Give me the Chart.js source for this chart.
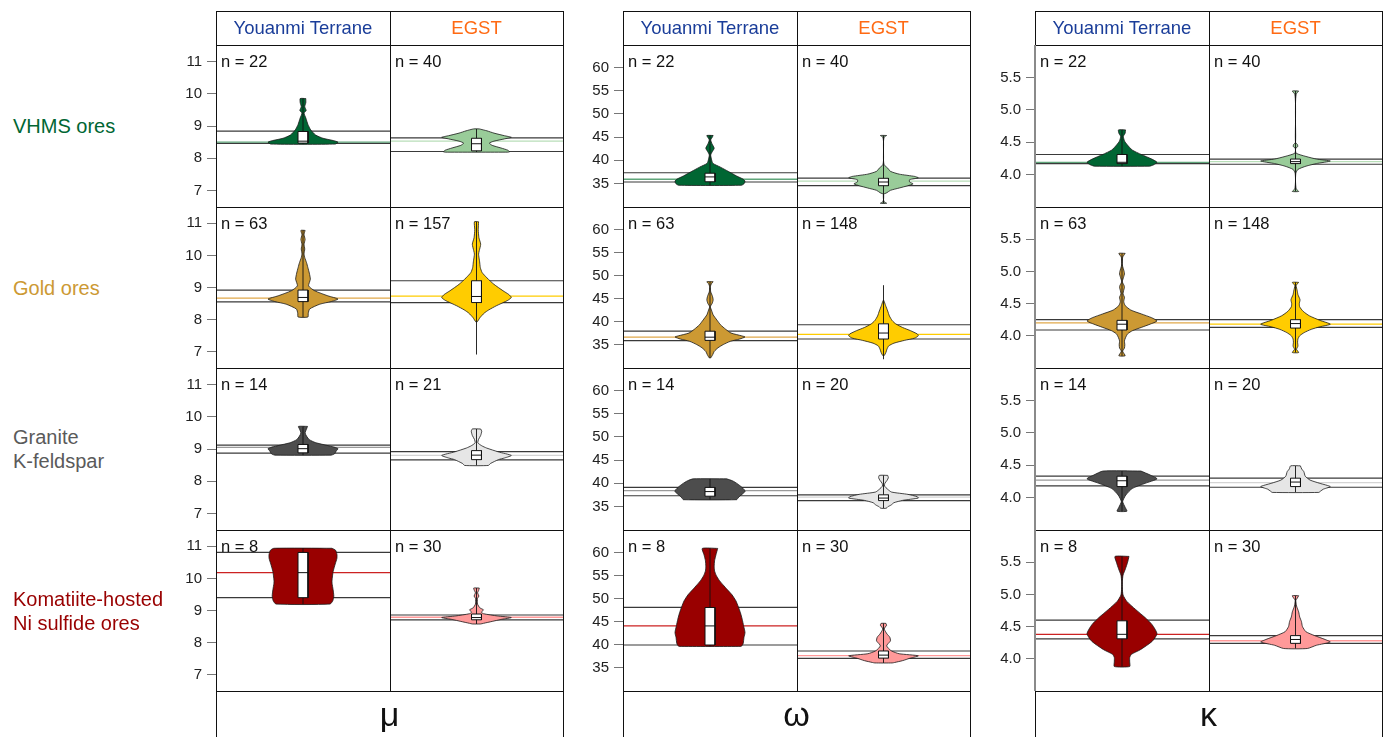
<!DOCTYPE html>
<html>
<head>
<meta charset="utf-8">
<title>μ, ω, κ by ore type and terrane</title>
<script src="https://cdn.jsdelivr.net/npm/chart.js@4.4.1/dist/chart.umd.min.js"></script>
<style>
  html, body { margin: 0; padding: 0; background: #fff; }
  #fig { position: relative; width: 1386px; height: 737px; overflow: hidden;
         font-family: "Liberation Sans", Arial, sans-serif; }
  .rule { position: absolute; background: #111; z-index: 5; }
  .txt { position: absolute; white-space: nowrap; z-index: 6; }
  .box { position: absolute; display: flex; align-items: center; z-index: 6; }
  canvas { position: absolute; z-index: 2; }
</style>
</head>
<body>
<div id="fig"></div>
<script>
// ---- labels ----
const groups = ['VHMS ores', 'Gold ores', 'Granite\nK-feldspar', 'Komatiite-hosted\nNi sulfide ores'];
const terranes = ['Youanmi Terrane', 'EGST'];
const params = ['μ', 'ω', 'κ'];

// ---- axis ticks ----
const muTicks = [7, 8, 9, 10, 11];
const omegaTicks = [35, 40, 45, 50, 55, 60];
const kappaTicks = [4.0, 4.5, 5.0, 5.5];

// ---- sample sizes [group][terrane] ----
const muCounts = [[22, 40], [63, 157], [14, 21], [8, 30]];
const omegaCounts = [[22, 40], [63, 148], [14, 20], [8, 30]];
const kappaCounts = [[22, 40], [63, 148], [14, 20], [8, 30]];

// ---- violin density profiles: [value, relative half-width], top to bottom; [Youanmi, EGST] ----
const muVhmsViolin = [
  [[9.85,0.08],[9.72,0.08],[9.6,0.05],[9.48,0.09],[9.4,0.03],[9.25,0.08],[9.05,0.14],[8.88,0.22],[8.72,0.36],[8.62,0.57],[8.55,0.86],[8.5,1],[8.44,0.92]],
  [[8.91,0.08],[8.85,0.3],[8.78,0.5],[8.7,0.8],[8.65,1],[8.6,0.8],[8.53,0.5],[8.47,0.37],[8.4,0.45],[8.32,0.7],[8.25,0.9],[8.2,0.95],[8.19,0.9]]
];
const muGoldViolin = [
  [[10.78,0.06],[10.65,0.03],[10.5,0.06],[10.35,0.03],[10.2,0.05],[10.05,0.03],[9.93,0.05],[9.78,0.1],[9.62,0.14],[9.45,0.18],[9.26,0.21],[9.05,0.16],[8.9,0.33],[8.74,0.71],[8.64,1],[8.56,0.8],[8.48,0.48],[8.33,0.19],[8.2,0.15],[8.08,0.14]],
  [[11.05,0.06],[10.8,0.05],[10.55,0.07],[10.35,0.12],[10.15,0.08],[10.04,0.06],[9.8,0.09],[9.62,0.11],[9.47,0.16],[9.3,0.3],[9.1,0.5],[8.9,0.76],[8.78,0.93],[8.69,1],[8.6,0.9],[8.43,0.57],[8.3,0.35],[8.2,0.22],[8.06,0.1],[7.93,0.02]]
];
const muGraniteViolin = [
  [[9.7,0.13],[9.62,0.1],[9.5,0.06],[9.4,0.1],[9.29,0.18],[9.2,0.35],[9.14,0.57],[9.07,0.85],[9.01,1],[8.94,0.95],[8.85,0.9],[8.81,0.8]],
  [[9.62,0.12],[9.55,0.15],[9.42,0.12],[9.3,0.06],[9.19,0.04],[9.1,0.15],[9.03,0.29],[8.91,0.63],[8.8,1],[8.72,0.8],[8.67,0.63],[8.55,0.4],[8.49,0.34]]
];
const muKomatiiteViolin = [
  [[10.94,0.83],[10.88,0.93],[10.75,0.97],[10.63,0.97],[10.45,0.92],[10.21,0.86],[9.95,0.83],[9.85,0.83],[9.65,0.86],[9.45,0.88],[9.3,0.85],[9.2,0.77]],
  [[9.7,0.08],[9.62,0.06],[9.55,0.03],[9.45,0.07],[9.38,0.03],[9.2,0.03],[9.08,0.1],[9.02,0.2],[8.95,0.14],[8.9,0.2],[8.83,0.6],[8.78,1],[8.72,0.7],[8.66,0.45],[8.6,0.2],[8.58,0.12]]
];

const omegaVhmsViolin = [
  [[45.35,0.09],[44.9,0.06],[44.4,0.02],[43.5,0.06],[42.6,0.12],[41.8,0.06],[41.15,0.02],[40.3,0.04],[39.35,0.08],[38.5,0.3],[37.6,0.52],[36.6,0.76],[35.9,0.95],[35.5,1],[35.0,0.98],[34.6,0.9]],
  [[45.35,0.09],[45.0,0.02],[44.0,0],[42.0,0],[40.0,0],[39.0,0.02],[38.3,0.12],[37.6,0.2],[37.0,0.45],[36.5,0.9],[36.2,1],[35.8,0.75],[35.3,0.75],[34.9,0.85],[34.5,0.7],[34.0,0.45],[33.5,0.2],[33.0,0.1],[32.6,0],[31.5,0],[31.0,0.02],[30.7,0.09]]
];
const omegaGoldViolin = [
  [[48.65,0.09],[48.2,0.04],[47.6,0.01],[46.5,0.02],[45.5,0.07],[44.7,0.09],[43.9,0.06],[43.25,0.01],[42.3,0.05],[41.45,0.09],[40.3,0.2],[39.3,0.3],[38.3,0.45],[37.5,0.6],[36.9,0.9],[36.65,1],[36.2,0.85],[35.7,0.58],[35.0,0.38],[34.3,0.23],[33.5,0.12],[32.85,0.08],[32.1,0.02]],
  [[44.6,0.01],[43.5,0.06],[42.3,0.12],[41.2,0.17],[40.2,0.25],[39.5,0.35],[38.7,0.55],[38.0,0.78],[37.3,0.97],[36.9,1],[36.4,0.9],[35.9,0.6],[35.3,0.3],[34.7,0.15],[34.0,0.1],[33.3,0.07],[32.6,0.02]]
];
const omegaGraniteViolin = [
  [[40.95,0.48],[40.5,0.65],[39.9,0.78],[39.2,0.9],[38.6,0.98],[38.2,1],[37.7,0.93],[37.2,0.85],[36.8,0.8],[36.45,0.76]],
  [[41.7,0.12],[41.2,0.14],[40.6,0.1],[40.0,0.04],[39.4,0.03],[38.7,0.12],[38.1,0.23],[37.6,0.7],[37.1,0.97],[36.8,1],[36.3,0.55],[35.8,0.3],[35.3,0.22],[34.9,0.12],[34.6,0.08]]
];
const omegaKomatiiteViolin = [
  [[60.9,0.22],[59.5,0.17],[58.2,0.13],[57.0,0.12],[56.0,0.13],[55.0,0.18],[54.0,0.26],[53.0,0.37],[51.9,0.5],[50.8,0.63],[49.5,0.74],[48.2,0.81],[46.9,0.87],[45.5,0.92],[44.1,0.96],[42.6,1],[41.5,0.97],[40.3,0.95],[39.8,0.92],[39.6,0.88]],
  [[44.6,0.07],[44.2,0.09],[43.8,0.05],[43.35,0.02],[42.8,0.06],[42.3,0.1],[41.6,0.18],[40.8,0.2],[40.1,0.12],[39.7,0.09],[39.2,0.14],[38.6,0.23],[38.0,0.45],[37.55,1],[37.0,0.75],[36.5,0.55],[36.1,0.32],[36.0,0.25]]
];

const kappaVhmsViolin = [
  [[4.69,0.1],[4.64,0.09],[4.59,0.04],[4.52,0.07],[4.46,0.15],[4.38,0.29],[4.31,0.55],[4.24,0.85],[4.19,1],[4.15,0.9],[4.13,0.78]],
  [[5.29,0.09],[5.24,0.02],[5.1,0],[4.8,0],[4.5,0],[4.46,0.06],[4.43,0.06],[4.4,0],[4.33,0.02],[4.28,0.3],[4.24,0.6],[4.21,1],[4.17,0.6],[4.13,0.3],[4.08,0.07],[4.02,0.01],[3.9,0],[3.78,0.02],[3.74,0.09]]
];
const kappaGoldViolin = [
  [[5.28,0.09],[5.22,0.02],[5.1,0.01],[5.0,0.06],[4.96,0.07],[4.92,0.05],[4.84,0.01],[4.78,0.06],[4.75,0.07],[4.71,0.05],[4.65,0.03],[4.6,0.07],[4.53,0.05],[4.47,0.09],[4.4,0.25],[4.34,0.55],[4.28,0.85],[4.23,1],[4.18,0.8],[4.13,0.55],[4.08,0.3],[4.03,0.16],[3.97,0.1],[3.92,0.07],[3.86,0.08],[3.81,0.07],[3.76,0.02],[3.69,0.09]],
  [[4.83,0.09],[4.78,0.02],[4.7,0.05],[4.64,0.07],[4.56,0.13],[4.5,0.11],[4.45,0.12],[4.38,0.22],[4.31,0.4],[4.24,0.7],[4.18,1],[4.14,0.7],[4.1,0.45],[4.05,0.25],[4.0,0.12],[3.95,0.07],[3.9,0.06],[3.84,0.07],[3.79,0.03],[3.74,0.09]]
];
const kappaGraniteViolin = [
  [[4.41,0.54],[4.35,0.8],[4.29,1],[4.22,0.66],[4.14,0.29],[4.04,0.11],[3.94,0.02],[3.85,0.09],[3.79,0.14]],
  [[4.49,0.14],[4.44,0.18],[4.4,0.24],[4.33,0.28],[4.27,0.42],[4.22,0.7],[4.17,1],[4.13,0.8],[4.1,0.72],[4.08,0.67]]
];
const kappaKomatiiteViolin = [
  [[5.59,0.2],[5.5,0.16],[5.4,0.1],[5.3,0.03],[5.2,0.01],[5.1,0.01],[4.99,0.03],[4.89,0.14],[4.77,0.38],[4.64,0.66],[4.53,0.86],[4.39,1],[4.27,0.86],[4.14,0.52],[4.07,0.27],[4.02,0.22],[3.95,0.22],[3.88,0.22]],
  [[4.98,0.09],[4.94,0.05],[4.91,0.01],[4.82,0.03],[4.73,0.09],[4.65,0.12],[4.58,0.17],[4.5,0.2],[4.42,0.3],[4.36,0.55],[4.3,0.85],[4.26,1],[4.21,0.6],[4.16,0.34]]
];

// ---- box: [lower quartile, median, upper quartile]; [group][terrane] ----
const muBoxes = [[[8.47,8.53,8.83],[8.23,8.45,8.62]], [[8.56,8.69,8.92],[8.53,8.72,9.21]], [[8.88,9.01,9.14],[8.67,8.81,8.95]], [[9.40,10.18,10.81],[8.71,8.78,8.89]]];
const omegaBoxes = [[[35.35,36.4,37.2],[34.5,35.3,36.1]], [[35.9,36.6,37.9],[36.2,37.5,39.5]], [[37.2,38.2,39.1],[36.25,36.8,37.5]], [[39.9,44.05,48.05],[37.05,37.7,38.6]]];
const kappaBoxes = [[[4.17,4.19,4.31],[4.17,4.2,4.24]], [[4.09,4.18,4.24],[4.12,4.19,4.25]], [[4.17,4.26,4.33],[4.17,4.24,4.30]], [[4.31,4.38,4.59],[4.24,4.30,4.36]]];

// ---- whisker range: [min, max] ----
const muWhiskers = [[[8.44,9.85],[8.19,8.91]], [[8.08,10.78],[6.91,11.05]], [[8.81,9.70],[8.49,9.62]], [[9.2,10.94],[8.58,9.70]]];
const omegaWhiskers = [[[34.6,45.35],[30.7,45.35]], [[32.1,48.65],[31.8,47.9]], [[36.45,40.95],[34.6,41.7]], [[39.6,60.9],[36.0,44.6]]];
const kappaWhiskers = [[[4.13,4.69],[3.74,5.29]], [[3.69,5.28],[3.74,4.83]], [[3.79,4.41],[4.08,4.49]], [[3.88,5.59],[4.16,4.98]]];

// ---- reference lines across each cell: [lower, centre, upper] ----
const muRefLines = [[[8.46,8.5,8.84],[8.21,8.53,8.63]], [[8.55,8.67,8.92],[8.53,8.73,9.21]], [[8.87,9.05,9.12],[8.66,8.8,8.92]], [[9.40,10.18,10.81],[8.71,8.79,8.86]]];
const omegaRefLines = [[[35.3,35.9,37.3],[34.5,35.5,36.15]], [[35.85,36.6,37.9],[36.2,37.2,39.3]], [[37.3,38.4,39.1],[36.25,37.0,37.5]], [[39.9,44.05,48.1],[37.0,37.6,38.6]]];
const kappaRefLines = [[[4.17,4.19,4.31],[4.16,4.2,4.24]], [[4.09,4.2,4.25],[4.13,4.18,4.25]], [[4.18,4.27,4.33],[4.16,4.23,4.30]], [[4.31,4.38,4.6],[4.24,4.28,4.36]]];

// ---- styling ----
const FONT = '"Liberation Sans", Arial, sans-serif';
const groupTextColors = ['#006633', '#cc9933', '#5a5a5a', '#990000'];
const terraneTextColors = ['#1a3d99', '#ff6a13'];
const violinFill = [['#006633', '#99cc99'], ['#cc9933', '#ffcc00'], ['#4d4d4d', '#e6e6e6'], ['#990000', '#ff9999']];
const centreLine = [['#5fa57a', '#b8deb8'], ['#e0a84a', '#ffcc00'], ['#9a9a9a', '#d4d4d4'], ['#cc2222', '#ff9999']];

const violins = [
  [muVhmsViolin, muGoldViolin, muGraniteViolin, muKomatiiteViolin],
  [omegaVhmsViolin, omegaGoldViolin, omegaGraniteViolin, omegaKomatiiteViolin],
  [kappaVhmsViolin, kappaGoldViolin, kappaGraniteViolin, kappaKomatiiteViolin]
];
const boxes = [muBoxes, omegaBoxes, kappaBoxes];
const whiskers = [muWhiskers, omegaWhiskers, kappaWhiskers];
const refLines = [muRefLines, omegaRefLines, kappaRefLines];
const counts = [muCounts, omegaCounts, kappaCounts];
const tickSets = [muTicks, omegaTicks, kappaTicks];
const tickFormat = [v => String(v), v => String(v), v => v.toFixed(1)];
const yRanges = [[6.49, 11.51], [29.9, 64.9], [3.5, 6.0]];

// ---- layout ----
const PANEL_L = [216, 623, 1035];
const PANEL_W = 347;
const COL_W = 174;
const HEAD_T = 11, HEAD_B = 45;
const ROW_T = [45, 207, 368, 530, 691];
const FIG_B = 737;
const AXIS_W = 60;
const VIOLIN_HALF = 35 / 87;   // widest violin half-width in x units
const BOX_HALF = 5 / 87;

const fig = document.getElementById('fig');

function el(cls, css, text) {
  const d = document.createElement('div');
  d.className = cls;
  Object.assign(d.style, css);
  if (text !== undefined) d.textContent = text;
  fig.appendChild(d);
  return d;
}
function hRule(x, y, w, color) { el('rule', { left: x + 'px', top: y + 'px', width: w + 'px', height: '1px', background: color || '#111' }); }
function vRule(x, y, h, color, w) { el('rule', { left: x + 'px', top: y + 'px', width: (w || 1) + 'px', height: h + 'px', background: color || '#111' }); }

function seg(x0, x1, v) { return [{ x: x0, y: v }, { x: x1, y: v }]; }

function cellChart(p, r, c) {
  const L = PANEL_L[p];
  const withAxis = c === 0;
  const cellL = c === 0 ? L : L + COL_W;
  const cellW = c === 0 ? COL_W : PANEL_W - COL_W;
  const top = ROW_T[r], h = ROW_T[r + 1] - ROW_T[r];
  const left = withAxis ? cellL - AXIS_W : cellL;
  const width = withAxis ? cellW + AXIS_W : cellW;

  const cv = document.createElement('canvas');
  cv.width = width; cv.height = h;
  cv.style.left = left + 'px'; cv.style.top = top + 'px';
  cv.style.width = width + 'px'; cv.style.height = h + 'px';
  fig.appendChild(cv);

  const prof = violins[p][r][c];
  const rightSide = prof.map(([v, w]) => ({ x: w * VIOLIN_HALF, y: v }));
  const leftSide = prof.slice().reverse().map(([v, w]) => ({ x: -w * VIOLIN_HALF, y: v }));
  const violinPts = rightSide.concat(leftSide, [rightSide[0]]);

  const [q1, med, q3] = boxes[p][r][c];
  const [wMin, wMax] = whiskers[p][r][c];
  const [lo, mid, hi] = refLines[p][r][c];
  const b = BOX_HALF;

  const base = { pointRadius: 0, pointHoverRadius: 0, tension: 0, fill: false };
  const datasets = [
    Object.assign({}, base, { label: 'median', data: seg(-b, b, med), borderColor: '#111', borderWidth: 1, order: 0 }),
    Object.assign({}, base, { label: 'box', data: [{ x: -b, y: q3 }, { x: b, y: q3 }, { x: b, y: q1 }, { x: -b, y: q1 }, { x: -b, y: q3 }],
      borderColor: '#111', borderWidth: 1, backgroundColor: '#ffffff', fill: 'shape', order: 1 }),
    Object.assign({}, base, { label: 'range', data: [{ x: 0, y: wMin }, { x: 0, y: wMax }], borderColor: '#111', borderWidth: 0.9, order: 2 }),
    Object.assign({}, base, { label: 'density', data: violinPts, borderColor: '#1a1a1a', borderWidth: 0.8,
      backgroundColor: violinFill[r][c], fill: 'shape', tension: 0.2, order: 3 }),
    Object.assign({}, base, { label: 'centre', data: seg(-1, 1, mid), borderColor: centreLine[r][c], borderWidth: 1.3, order: 4 }),
    Object.assign({}, base, { label: 'lower', data: seg(-1, 1, lo), borderColor: '#3a3a3a', borderWidth: 1.2, order: 5 }),
    Object.assign({}, base, { label: 'upper', data: seg(-1, 1, hi), borderColor: '#3a3a3a', borderWidth: 1.2, order: 5 })
  ];

  const yScale = {
    type: 'linear', min: yRanges[p][0], max: yRanges[p][1],
    display: withAxis,
    afterBuildTicks: s => { s.ticks = tickSets[p].map(v => ({ value: v })); },
    ticks: { font: { family: FONT, size: 15 }, color: '#222', padding: 5, autoSkip: false,
             callback: v => tickFormat[p](v) },
    grid: { drawOnChartArea: false, drawTicks: true, tickLength: 9, color: '#777', lineWidth: 1 },
    border: { display: false }
  };
  if (withAxis) {
    // fixed axis strip; the plot area fills the whole cell height
    yScale.afterFit = s => { s.width = AXIS_W; s.paddingTop = 0; s.paddingBottom = 0; };
  }

  new Chart(cv, {
    type: 'line',
    data: { datasets },
    options: {
      responsive: false,
      devicePixelRatio: 1,
      animation: false,
      events: [],
      layout: { padding: 0 },
      plugins: { legend: { display: false }, tooltip: { enabled: false }, title: { display: false } },
      scales: {
        x: { type: 'linear', min: -1, max: 1, display: false },
        y: yScale
      }
    }
  });

  // sample size
  el('txt', { left: (cellL + 5) + 'px', top: (top + 6) + 'px', fontSize: '16.5px', lineHeight: '20px', color: '#111' },
     'n = ' + counts[p][r][c]);
}

// group labels on the left
groups.forEach((g, r) => {
  const d = el('box', { left: '13px', top: ROW_T[r] + 'px', height: (ROW_T[r + 1] - ROW_T[r]) + 'px',
                        fontSize: '20px', lineHeight: '24px', color: groupTextColors[r] });
  d.innerHTML = g.split('\n').join('<br>');
});

params.forEach((sym, p) => {
  const L = PANEL_L[p], M = L + COL_W, R = L + PANEL_W;
  for (let r = 0; r < 4; r++) for (let c = 0; c < 2; c++) cellChart(p, r, c);

  // frame
  [HEAD_T, HEAD_B, ROW_T[1], ROW_T[2], ROW_T[3], ROW_T[4]].forEach(y => hRule(L, y, PANEL_W + 1));
  vRule(L, HEAD_T, FIG_B - HEAD_T);
  vRule(R, HEAD_T, FIG_B - HEAD_T);
  vRule(M, HEAD_T, ROW_T[4] - HEAD_T);
  if (p === 2) vRule(L - 1, HEAD_B, ROW_T[4] - HEAD_B, '#8a8a8a', 2);

  // terrane headers
  terranes.forEach((t, c) => {
    const x0 = c === 0 ? L : M, x1 = c === 0 ? M : R;
    el('txt', { left: x0 + 'px', width: (x1 - x0) + 'px', top: HEAD_T + 'px', height: (HEAD_B - HEAD_T) + 'px',
                lineHeight: (HEAD_B - HEAD_T) + 'px', textAlign: 'center', fontSize: '18.5px', color: terraneTextColors[c] }, t);
  });

  // parameter symbol
  el('txt', { left: L + 'px', width: PANEL_W + 'px', top: ROW_T[4] + 'px', height: (FIG_B - ROW_T[4]) + 'px',
              lineHeight: (FIG_B - ROW_T[4]) + 'px', textAlign: 'center', fontSize: '34px', color: '#111' }, sym);
});
</script>
</body>
</html>
